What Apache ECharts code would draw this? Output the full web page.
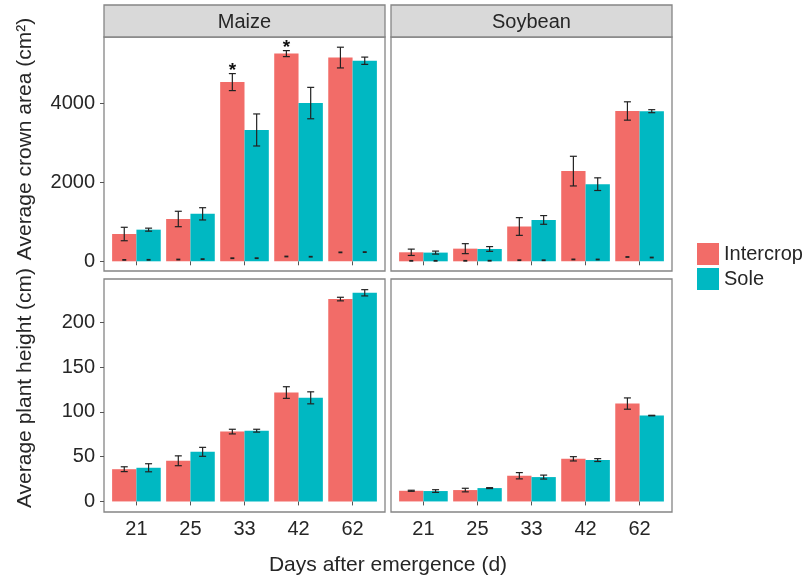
<!DOCTYPE html>
<html>
<head>
<meta charset="utf-8">
<script src="https://cdn.jsdelivr.net/npm/echarts@6/dist/echarts.min.js"></script>
<style>
html, body { margin: 0; padding: 0; background: #fff; }
#chart { width: 809px; height: 581px; }
</style>
</head>
<body>
<div id="chart"></div>
<script>
const days = ["21", "25", "33", "42", "62"];
const crops = ["Maize", "Soybean"];
const groups = ["Intercrop", "Sole"];

// average crown area (cm2), mean and error
const maizeAreaInter = [690, 1070, 4530, 5250, 5150];
const maizeAreaInterErr = [170, 195, 215, 76, 262];
const maizeAreaSole = [800, 1200, 3320, 4000, 5070];
const maizeAreaSoleErr = [38, 155, 405, 397, 92];
const soyAreaInter = [228, 320, 880, 2280, 3800];
const soyAreaInterErr = [80, 126, 224, 375, 232];
const soyAreaSole = [220, 312, 1046, 1950, 3795];
const soyAreaSoleErr = [38, 60, 110, 160, 38];
const maizeSig = ["", "", "*", "*", ""];

// average plant height (cm), mean and error
const maizeHeightInter = [36, 45.4, 78, 121.6, 226];
const maizeHeightInterErr = [2.7, 5.5, 2.6, 6.5, 2];
const maizeHeightSole = [37.6, 55.4, 79, 115.7, 233];
const maizeHeightSoleErr = [4.5, 5, 1.6, 6.7, 3.5];
const soyHeightInter = [11.9, 12.7, 28.7, 47.6, 109.3];
const soyHeightInterErr = [0.6, 2, 3.5, 2.4, 6.3];
const soyHeightSole = [11.6, 14.9, 27.2, 46.2, 95.9];
const soyHeightSoleErr = [1.5, 0.5, 2.2, 1.6, 0.3];

const areaTicks = [0, 2000, 4000];
const heightTicks = [0, 50, 100, 150, 200];

const COLORS = { Intercrop: "#F26C68", Sole: "#00B8C2" };
const SHIFT = { Intercrop: -0.225, Sole: 0.225 };
const FONT = "Liberation Sans";
const TXT = "#262626";
const FRAME = "#858585";

// panels: 0 maize area, 1 soy area, 2 maize height, 3 soy height
const panels = [
  { left: 104, top: 37, height: 234 },
  { left: 391, top: 37, height: 234 },
  { left: 104, top: 279, height: 233 },
  { left: 391, top: 279, height: 233 }
];

function barSeries(name, panel, values) {
  const shift = SHIFT[name];
  return {
    name: name,
    type: "custom",
    xAxisIndex: panel,
    yAxisIndex: panel,
    itemStyle: { color: COLORS[name] },
    data: values.map((v, i) => [i + 1, v]),
    renderItem: (params, api) => {
      const x = api.value(0) + shift;
      const a = api.coord([x - 0.225, api.value(1)]);
      const b = api.coord([x + 0.225, 0]);
      return {
        type: "rect",
        shape: { x: a[0], y: a[1], width: b[0] - a[0], height: b[1] - a[1] },
        style: { fill: COLORS[name] }
      };
    }
  };
}

function errSeries(name, panel, values, errs) {
  const shift = SHIFT[name];
  return {
    name: name + " err",
    type: "custom",
    xAxisIndex: panel,
    yAxisIndex: panel,
    z: 3,
    data: values.map((v, i) => [i + 1, v, errs[i]]),
    renderItem: (params, api) => {
      const x = api.value(0) + shift;
      const hi = api.coord([x, api.value(1) + api.value(2)]);
      const lo = api.coord([x, api.value(1) - api.value(2)]);
      const st = { stroke: "#222", lineWidth: 1.2 };
      return {
        type: "group",
        children: [
          { type: "line", shape: { x1: hi[0], y1: hi[1], x2: lo[0], y2: lo[1] }, style: st },
          { type: "line", shape: { x1: hi[0] - 3.5, y1: hi[1], x2: hi[0] + 3.5, y2: hi[1] }, style: st },
          { type: "line", shape: { x1: lo[0] - 3.5, y1: lo[1], x2: lo[0] + 3.5, y2: lo[1] }, style: st }
        ]
      };
    }
  };
}

// the small dashes near zero in the crown-area panels sit at the height values
function dashSeries(name, panel, values) {
  const shift = SHIFT[name];
  return {
    name: name + " dash",
    type: "custom",
    xAxisIndex: panel,
    yAxisIndex: panel,
    z: 3,
    data: values.map((v, i) => [i + 1, v]),
    renderItem: (params, api) => {
      const p = api.coord([api.value(0) + shift, api.value(1)]);
      return {
        type: "line",
        shape: { x1: p[0] - 2, y1: p[1], x2: p[0] + 2, y2: p[1] },
        style: { stroke: "#222", lineWidth: 1.8 }
      };
    }
  };
}

function sigSeries(panel, values, errs, marks) {
  return {
    name: "sig",
    type: "custom",
    xAxisIndex: panel,
    yAxisIndex: panel,
    z: 4,
    data: values.map((v, i) => [i + 1, v + errs[i]]),
    renderItem: (params, api) => {
      const mark = marks[params.dataIndex];
      if (!mark) return null;
      const p = api.coord([api.value(0) + SHIFT.Intercrop, api.value(1)]);
      return {
        type: "text",
        x: p[0],
        y: p[1] - 3,
        style: { text: mark, fill: "#111", font: "bold 19px " + FONT, align: "center", verticalAlign: "middle" }
      };
    }
  };
}

let chart = echarts.init(document.getElementById("chart"));

const grid = panels.map(p => ({
  left: p.left, top: p.top, width: 281, height: p.height,
  show: true, borderColor: FRAME, borderWidth: 1.3, backgroundColor: "#fff",
  outerBoundsMode: "none"
}));

const xAxis = panels.map((p, i) => ({
  type: "value",
  gridIndex: i,
  min: 0.4,
  max: 5.6,
  splitLine: { show: false },
  axisLine: { show: false },
  axisTick: { show: true, customValues: [1, 2, 3, 4, 5], length: 4, lineStyle: { color: "#555", width: 1 } },
  axisLabel: {
    show: i >= 2,
    customValues: [1, 2, 3, 4, 5],
    formatter: v => days[v - 1],
    margin: 7,
    fontSize: 20,
    fontFamily: FONT,
    color: TXT
  }
}));

const yAxis = panels.map((p, i) => ({
  type: "value",
  gridIndex: i,
  min: i < 2 ? -245 : -11.8,
  max: i < 2 ? 5670 : 248.4,
  splitLine: { show: false },
  axisLine: { show: false },
  axisTick: { show: i % 2 === 0, customValues: i < 2 ? areaTicks : heightTicks, length: 4, lineStyle: { color: "#555", width: 1 } },
  axisLabel: {
    show: i % 2 === 0,
    customValues: i < 2 ? areaTicks : heightTicks,
    formatter: v => String(v),
    margin: 9,
    fontSize: 20,
    fontFamily: FONT,
    color: TXT
  }
}));

const series = [
  barSeries("Intercrop", 0, maizeAreaInter),
  barSeries("Sole", 0, maizeAreaSole),
  barSeries("Intercrop", 1, soyAreaInter),
  barSeries("Sole", 1, soyAreaSole),
  barSeries("Intercrop", 2, maizeHeightInter),
  barSeries("Sole", 2, maizeHeightSole),
  barSeries("Intercrop", 3, soyHeightInter),
  barSeries("Sole", 3, soyHeightSole),
  errSeries("Intercrop", 0, maizeAreaInter, maizeAreaInterErr),
  errSeries("Sole", 0, maizeAreaSole, maizeAreaSoleErr),
  errSeries("Intercrop", 1, soyAreaInter, soyAreaInterErr),
  errSeries("Sole", 1, soyAreaSole, soyAreaSoleErr),
  errSeries("Intercrop", 2, maizeHeightInter, maizeHeightInterErr),
  errSeries("Sole", 2, maizeHeightSole, maizeHeightSoleErr),
  errSeries("Intercrop", 3, soyHeightInter, soyHeightInterErr),
  errSeries("Sole", 3, soyHeightSole, soyHeightSoleErr),
  dashSeries("Intercrop", 0, maizeHeightInter),
  dashSeries("Sole", 0, maizeHeightSole),
  dashSeries("Intercrop", 1, soyHeightInter),
  dashSeries("Sole", 1, soyHeightSole),
  sigSeries(0, maizeAreaInter, maizeAreaInterErr, maizeSig)
];

const graphic = [];
crops.forEach((c, i) => {
  const p = panels[i];
  graphic.push({
    type: "rect",
    shape: { x: p.left, y: 5, width: 281, height: 32 },
    style: { fill: "#D9D9D9", stroke: FRAME, lineWidth: 1.3 }
  });
  graphic.push({
    type: "text",
    x: p.left + 140.5,
    y: 22,
    style: { text: c, fill: TXT, font: "20px " + FONT, align: "center", verticalAlign: "middle" }
  });
});
graphic.push({
  type: "text", x: 25, y: 139, rotation: Math.PI / 2,
  style: { text: "Average crown area (cm²)", fill: TXT, font: "21px " + FONT, align: "center", verticalAlign: "middle" }
});
graphic.push({
  type: "text", x: 25, y: 388, rotation: Math.PI / 2,
  style: { text: "Average plant height (cm)", fill: TXT, font: "21px " + FONT, align: "center", verticalAlign: "middle" }
});
graphic.push({
  type: "text", x: 388, y: 565,
  style: { text: "Days after emergence (d)", fill: TXT, font: "21px " + FONT, align: "center", verticalAlign: "middle" }
});

let options = {
  animation: false,
  backgroundColor: "#fff",
  grid: grid,
  xAxis: xAxis,
  yAxis: yAxis,
  legend: {
    data: groups,
    orient: "vertical",
    left: 697,
    top: 243,
    padding: 0,
    itemWidth: 22,
    itemHeight: 22,
    itemGap: 3,
    icon: "rect",
    selectedMode: false,
    textStyle: { fontSize: 20, fontFamily: FONT, color: TXT }
  },
  graphic: graphic,
  series: series
};

chart.setOption(options);
</script>
</body>
</html>
